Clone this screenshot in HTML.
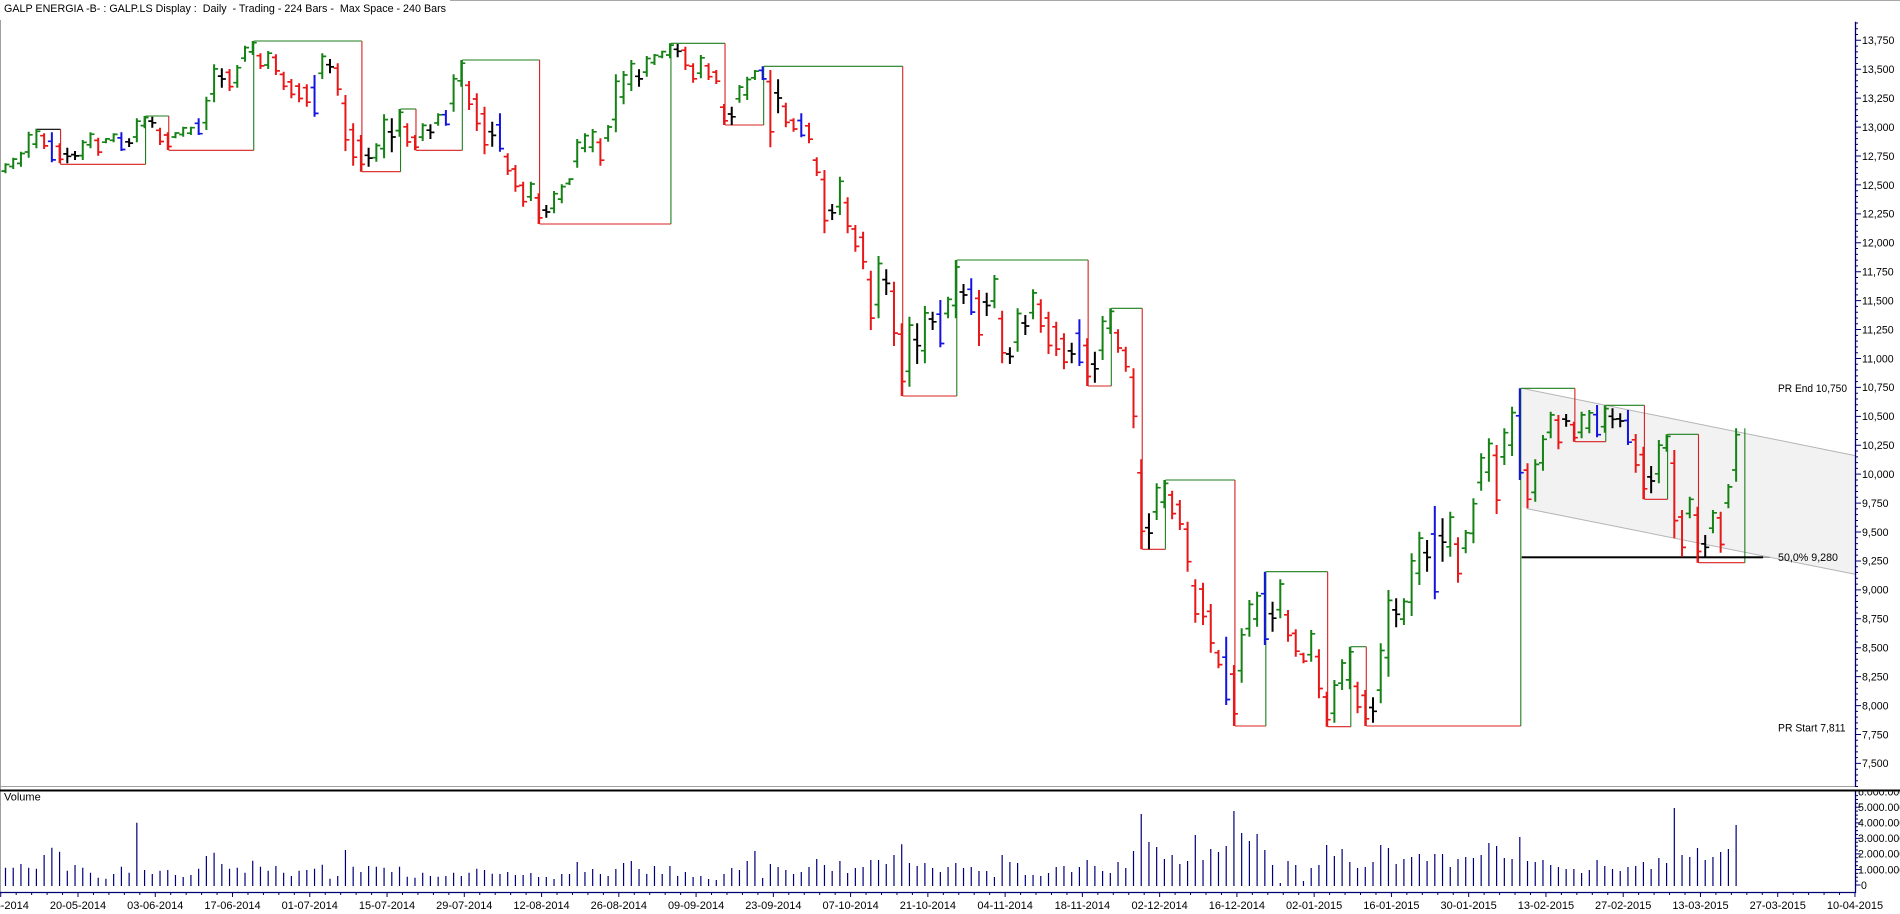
<!DOCTYPE html>
<html><head><meta charset="utf-8">
<style>
html,body{margin:0;padding:0;background:#fff;overflow:hidden;}
svg{display:block;}
text{font-family:"Liberation Sans",Arial,sans-serif;fill:#000;}
.pl{font-size:10.6px;}
.dl{font-size:11px;}
</style></head>
<body>
<svg id="c" width="1900" height="914" viewBox="0 0 1900 914" xmlns="http://www.w3.org/2000/svg">
<defs><clipPath id="vclip"><rect x="1850" y="791.6" width="60" height="110"/></clipPath></defs>
<rect width="1900" height="914" fill="#fff"/>
<line x1="450" y1="0.5" x2="1900" y2="0.5" stroke="#a8a8a8"/>
<line x1="0.5" y1="20" x2="0.5" y2="893" stroke="#a0a0a0"/>
<polygon points="1521.7,388.3 1855,455.6 1855,574.3 1522,507.7" fill="#f2f2f2"/>
<line x1="1521.7" y1="388.3" x2="1855" y2="455.6" stroke="#b4b4b4" stroke-width="1"/>
<line x1="1526.7" y1="508.6" x2="1855" y2="574.3" stroke="#b4b4b4" stroke-width="1"/>
<g id="zig"></g>
<rect x="1521.7" y="556.3" width="241.5" height="2" fill="#000"/>
<line x1="1763" y1="557.3" x2="1770" y2="557.3" stroke="#888" stroke-width="1"/>
<g id="bars"></g>
<g id="vol"></g>
<g id="ticks"></g>
<!-- separators & axes -->
<line x1="0" y1="786.5" x2="1855" y2="786.5" stroke="#a0a0a0" stroke-width="1"/>
<rect x="0" y="789.5" width="1900" height="2" fill="#000"/>
<line x1="1855.5" y1="21.7" x2="1855.5" y2="787" stroke="#000070" stroke-width="1.3"/>
<line x1="1855.5" y1="791.5" x2="1855.5" y2="893" stroke="#000070" stroke-width="1.3"/>
<line x1="0" y1="892.5" x2="1856" y2="892.5" stroke="#000070" stroke-width="1.2"/>

<text x="4" y="12" font-size="11" textLength="442" lengthAdjust="spacingAndGlyphs" style="white-space:pre" xml:space="preserve">GALP ENERGIA -B- : GALP.LS Display :  Daily  - Trading - 224 Bars -  Max Space - 240 Bars</text>
<text x="4" y="800.7" font-size="11">Volume</text>

<g class="pl">
<text x="1862" y="44.1">13,750</text>
<text x="1862" y="73.0">13,500</text>
<text x="1862" y="102.0">13,250</text>
<text x="1862" y="130.9">13,000</text>
<text x="1862" y="159.8">12,750</text>
<text x="1862" y="188.8">12,500</text>
<text x="1862" y="217.7">12,250</text>
<text x="1862" y="246.6">12,000</text>
<text x="1862" y="275.5">11,750</text>
<text x="1862" y="304.4">11,500</text>
<text x="1862" y="333.4">11,250</text>
<text x="1862" y="362.3">11,000</text>
<text x="1862" y="391.2">10,750</text>
<text x="1862" y="420.1">10,500</text>
<text x="1862" y="449.1">10,250</text>
<text x="1862" y="478.0">10,000</text>
<text x="1862" y="506.9">9,750</text>
<text x="1862" y="535.8">9,500</text>
<text x="1862" y="564.7">9,250</text>
<text x="1862" y="593.7">9,000</text>
<text x="1862" y="622.6">8,750</text>
<text x="1862" y="651.5">8,500</text>
<text x="1862" y="680.4">8,250</text>
<text x="1862" y="709.4">8,000</text>
<text x="1862" y="738.3">7,750</text>
<text x="1862" y="767.2">7,500</text>
</g>
<g class="pl" clip-path="url(#vclip)">
<text x="1858" y="795.6">6.000.000</text>
<text x="1858" y="811.1">5.000.000</text>
<text x="1858" y="826.6">4.000.000</text>
<text x="1858" y="842.2">3.000.000</text>
<text x="1858" y="857.7">2.000.000</text>
<text x="1858" y="873.3">1.000.000</text>
<text x="1861" y="888.8">0</text>
</g>
<g class="pl" fill="#222">
<text x="1778" y="392.1" textLength="69" lengthAdjust="spacingAndGlyphs">PR End 10,750</text>
<text x="1778" y="561.1" textLength="60" lengthAdjust="spacingAndGlyphs">50,0% 9,280</text>
<text x="1778" y="731.5" textLength="67.5" lengthAdjust="spacingAndGlyphs">PR Start 7,811</text>
</g>
<g class="dl" text-anchor="middle">
<text x="0.74" y="909">06-05-2014</text>
<text x="78" y="909">20-05-2014</text>
<text x="155.26" y="909">03-06-2014</text>
<text x="232.52" y="909">17-06-2014</text>
<text x="309.78" y="909">01-07-2014</text>
<text x="387.04" y="909">15-07-2014</text>
<text x="464.3" y="909">29-07-2014</text>
<text x="541.56" y="909">12-08-2014</text>
<text x="618.82" y="909">26-08-2014</text>
<text x="696.08" y="909">09-09-2014</text>
<text x="773.34" y="909">23-09-2014</text>
<text x="850.6" y="909">07-10-2014</text>
<text x="927.86" y="909">21-10-2014</text>
<text x="1005.12" y="909">04-11-2014</text>
<text x="1082.38" y="909">18-11-2014</text>
<text x="1159.64" y="909">02-12-2014</text>
<text x="1236.9" y="909">16-12-2014</text>
<text x="1314.16" y="909">02-01-2015</text>
<text x="1391.42" y="909">16-01-2015</text>
<text x="1468.68" y="909">30-01-2015</text>
<text x="1545.94" y="909">13-02-2015</text>
<text x="1623.2" y="909">27-02-2015</text>
<text x="1700.46" y="909">13-03-2015</text>
<text x="1777.72" y="909">27-03-2015</text>
<text x="1854.98" y="909">10-04-2015</text>
</g>
</svg>
<script>
(function(){
var X=function(i){return 5.5+7.726*i;};
var B=[
['g',163.3,173.3],['g',157.7,169],['g',151.7,166.7],['g',131.7,157.7],['g',129,148.3],
['r',133.3,149],['b',132.3,162.3],['r',143.3,163.3],['k',147.7,163.3],['k',151,160],
['g',140,160],['g',132.3,148.3],['r',137.7,155.7],['g',138.3,143.3],['g',133.3,142.3],
['b',132.3,151],['k',138.3,147],['g',118.3,142.3],['g',116,128.3],['k',116.7,127.7],
['r',127.7,145],['r',132.3,150],['g',132.3,138.3],['g',126.7,136.7],['g',126.7,135],
['b',118.3,135],['g',96.7,130],['g',64.3,102.3],['k',68.3,87.7],['r',69,91],
['g',65,87.7],['g',45.7,61.7],['g',41,55],['r',53.3,69],['g',51,69],
['r',54.3,75],['r',71.7,90],['r',79,98.3],['r',83.3,102.3],['r',84.3,106.7],
['b',75,116.7],['g',53.3,79],['k',59,73.3],['r',63.3,95.7],['r',95,151],
['r',123.3,165.7],['r',135,171.7],['k',147.7,166.7],['g',143.3,161.7],['g',114.3,158.3],
['k',118.3,152.3],['g',109,136.7],['r',123.3,146.7],['r',135,150.3],['g',123.3,141],
['k',124.3,139],['g',113.3,125.7],['b',110,125.7],['g',74.3,111.7],['g',60,86.7],
['r',81,110],['r',93.3,131],['r',106.7,154.3],['k',121.7,146.7],['b',113.3,151.7],
['r',153.3,175],['r',165,191.7],['r',181.7,206.7],['g',181.7,201],['r',193.3,224],
['k',205,217.7],['g',191,213.3],['g',184.3,203.3],['g',178.3,185],['g',139,167.7],
['g',133.3,152.3],['g',129,152.3],['r',138.3,165.7],['g',125,141.7],['g',74.3,132.3],
['g',71,104.3],['g',60,91],['k',69.3,86.7],['g',56,76.7],['g',54,65],
['g',50.7,58.3],['g',43.3,58.3],['k',44,57.3],['r',46.7,70],['r',63.3,82.7],
['g',55,78.3],['r',63.3,80],['r',70,84],['r',104,125],['k',106.7,125],
['g',85,102.7],['g',76.7,100],['g',70,80],['b',66.3,80],['r',70,147.3],
['k',79.3,113.3],['r',102.7,127.3],['r',118.3,131.7],['b',113.3,137.3],['r',122.7,143.3],
['r',157.3,176],['r',170,233.3],['k',204,220],['g',176.7,215],['r',197.3,233.3],
['r',225,251.7],['r',231.7,269.3],['r',270.7,330],['g',256,318.3],['k',269.3,295],
['r',281.7,346],['r',323.3,396],['g',316.7,386.7],['k',323.3,364],['g',306,363.3],
['k',311.7,330],['b',300,347.3],['g',296.7,318.3],['g',260,318.3],['k',284,304],
['b',278.3,315],['r',290,346],['k',292.7,316],['g',275,308.3],['r',310.7,363.3],
['k',347.3,364],['g',308.3,351.7],['k',315,335],['g',289.3,319.3],['r',299.3,332.7],
['r',311.7,354],['r',321.7,356],['r',333.3,369.3],['k',342.7,363.3],['b',319.3,366],
['r',338.3,386],['k',351.7,382.7],['g',316,360],['g',308.3,334],['r',329.3,352.7],
['r',346.7,371.7],['r',368.3,428.3],['r',459.3,549.3],['k',513.3,549.3],['g',483.3,520],
['g',480,508.3],['r',490.7,519.3],['r',500,530],['r',521.7,571.7],['r',579.3,622.7],
['r',582.7,625],['r',604,652.7],['r',650,668.3],['b',636.7,705],['r',665,726],
['g',628.3,682.7],['g',600,636.7],['g',591.7,626.7],['b',571.7,645],['k',601.7,631.7],
['g',579.3,618.3],['r',610,641.7],['r',629.3,656.7],['r',652.7,663.3],['g',630,661.7],
['r',649.3,698.3],['r',691.7,726.7],['g',680,722.7],['g',659.3,690],['g',646.7,689.3],
['r',681.7,713.3],['r',690,726],['k',697.3,722.7],['g',643.3,703.3],['g',590,676.7],
['k',598.3,627.3],['g',598.3,625],['g',553.3,616],['g',531.7,585],['k',540,571.7],
['b',506,599.3],['k',518.3,561.7],['g',511.7,556.7],['r',537.3,582.7],['g',530,553.3],
['g',498.3,543.3],['g',453.3,490.7],['g',438.3,481.7],['r',445,514],['g',428.3,465],
['g',406.7,456],['b',388.3,480],['r',463.3,508.3],['g',459.3,501.7],['g',435,470.7],
['g',411.7,438.3],['r',415,449.3],['k',414,426.7],['r',421.7,441.7],['g',411.7,438.3],
['g',410,433.3],['b',405,437.3],['g',405.3,432.7],['k',408.3,428.3],['k',413.3,427.3],
['b',410,445],['r',434,472.7],['r',446.7,499.3],['k',466,493.3],['g',440,483.3],
['g',434.3,451.7],['r',450,538.3],['r',510,556.7],['g',496.7,518.3],['r',506.7,562.7],
['k',535,557.3],['g',510,533.3],['r',511.7,552.7],['g',484,508.3],['g',428.3,481.7]
];
var V=[867.7,867.7,864,867.7,868.7,855,847.7,851.7,870.7,865,
867.7,872.7,877.7,878.7,874,866.7,872.7,822.7,870,874,
870.7,870,875,877,875,868.7,856,852.7,864,868.7,
867.7,872.7,860.7,866.7,870.7,866,872.7,876,870.7,870,
868.7,864.7,878.7,876,850,866.7,872,866,866.7,867.7,
872,866.7,876.7,877.7,872.7,876,876.7,876,872.7,876,
872.7,868.7,870,873.7,874,872,875,875,873,877,
877,879,874,874,862,872,869,874,876,869,
863,861,869,874,866,874,866,876,872,877,
876,879,880,874,868,870,861,851,878,864,
867,870,874,872,867,859,865,871,861,873,
868,867,860,860,864,855,844.3,863,866,863,
868,872,867,863,868,867,871,871,877,855,
862,863,875,875,876,873,867,866,872,867,
860,866,871,873,862,868,851,814,842,847,
859,855,864,861,835,860,849,852,846,811,
833,841,834,850,865,883,861,865,881,868,
865,845,856,849,862,868,867,862,845,848,
864,859,857,854,861,854,854,867,859,857,
858,855,843,846,858,859,837,861,862,860,
865,867,869,869,873,870,860,866,869,871,
867,866,862,869,858,863,808,855,857,848,
860,857,852,849,825];
var col={g:'#148214',r:'#e81818',b:'#1414e0',k:'#000000'};
var paths={g:'',r:'',b:'',k:''},tk={g:'',r:'',b:'',k:''};
for(var i=0;i<B.length;i++){
 var c=B[i][0],h=B[i][1],l=B[i][2],x=X(i),r=l-h,o,cl;
 if(c==='g'){o=l-0.22*r;cl=h+0.12*r;}
 else if(c==='r'){o=h+0.15*r;cl=l-0.2*r;}
 else if(c==='b'){o=h+0.3*r;cl=l-0.08*r;}
 else {o=h+0.4*r;cl=h+0.55*r;}
 paths[c]+='M'+x.toFixed(2)+' '+h+'V'+l;
 tk[c]+='M'+(x-4).toFixed(2)+' '+o.toFixed(1)+'H'+x.toFixed(2)+'M'+x.toFixed(2)+' '+cl.toFixed(1)+'H'+(x+4).toFixed(2);
}
var s='';
for(var k in paths){
 s+='<path d="'+paths[k]+'" stroke="'+col[k]+'" stroke-width="2" fill="none"/>';
 s+='<path d="'+tk[k]+'" stroke="'+col[k]+'" stroke-width="1.7" fill="none"/>';
}
document.getElementById('bars').innerHTML=s;
// volume
var vp='';
for(var i=0;i<V.length;i++){var x=X(i);vp+='M'+x.toFixed(2)+' '+V[i]+'V886';}
document.getElementById('vol').innerHTML='<path d="'+vp+'" stroke="#00007a" stroke-width="1.2" fill="none"/>';
// zigzag
var Z=[[4,129.3,-0.9],[7,129.3],[7,164.3],[18,164.3],[18,116],[21,116],[21,150.3],[32,150.3],[32,41],[46,41],[46,171.7],[51,171.7],[51,109],[53,109],[53,150.3],[59,150.3],[59,60],[69,60],[69,224],[86,224],[86,43.3],[93,43.3],[93,125],[98,125],[98,66.3],[116,66.3],[116,396],[123,396],[123,260],[140,260],[140,386],[143,386],[143,308.3],[147,308.3],[147,549.3],[150,549.3],[150,480],[159,480],[159,726],[163,726],[163,571.7],[171,571.7],[171,726.7],[174,726.7],[174,646.7],[176,646.7],[176,726],[196,726],[196,388.3],[203,388.3],[203,441.7],[207,441.7],[207,405.3],[212,405.3],[212,499.3],[215,499.3],[215,434.3],[219,434.3],[219,562.7],[225,562.7],[225,428.3]];
var zs='',prev='#000';
for(var j=0;j<Z.length-1;j++){
 var a=Z[j],b=Z[j+1];
 var x1=X(a[0])+(j===0?-0.9:1),x2=X(b[0])+1,y1=a[1],y2=b[1],cc;
 if(j===0)cc='#000';
 else if(Math.abs(x1-x2)<0.01){cc=(y2>y1)?'#d82020':'#1e7e1e';prev=cc;}
 else cc=prev;
 zs+='<line x1="'+x1.toFixed(2)+'" y1="'+y1+'" x2="'+x2.toFixed(2)+'" y2="'+y2+'" stroke="'+cc+'" stroke-width="1.1"/>';
}
document.getElementById('zig').innerHTML=zs;
// ticks
var t='';
for(var n=730;n<=1390;n+=5){
 var y=40.3+(1375-n)*1.157;
 if(y<21.7||y>787)continue;
 var L=(n%25===0)?5.5:2.5;
 t+='M1855.5 '+y.toFixed(2)+'H'+(1855.5+L);
}
for(var m=0;m<=24;m++){
 var y=885-15.54*m/4;
 if(y<792)continue;
 var L=(m%4===0)?5:2.5;
 t+='M1855.5 '+y.toFixed(2)+'H'+(1855.5+L);
}
for(var k=-1;k<=23;k++){
 var x=78+77.26*k;
 if(x>=0&&x<=1856)t+='M'+x.toFixed(2)+' 892.5V897';
 for(var q=1;q<=4;q++){var xm=x+15.452*q;if(xm>=0&&xm<1855)t+='M'+xm.toFixed(2)+' 892.5V895';}
}
document.getElementById('ticks').innerHTML='<path d="'+t+'" stroke="#000070" stroke-width="1" fill="none"/>';
})();
</script>
</body></html>
